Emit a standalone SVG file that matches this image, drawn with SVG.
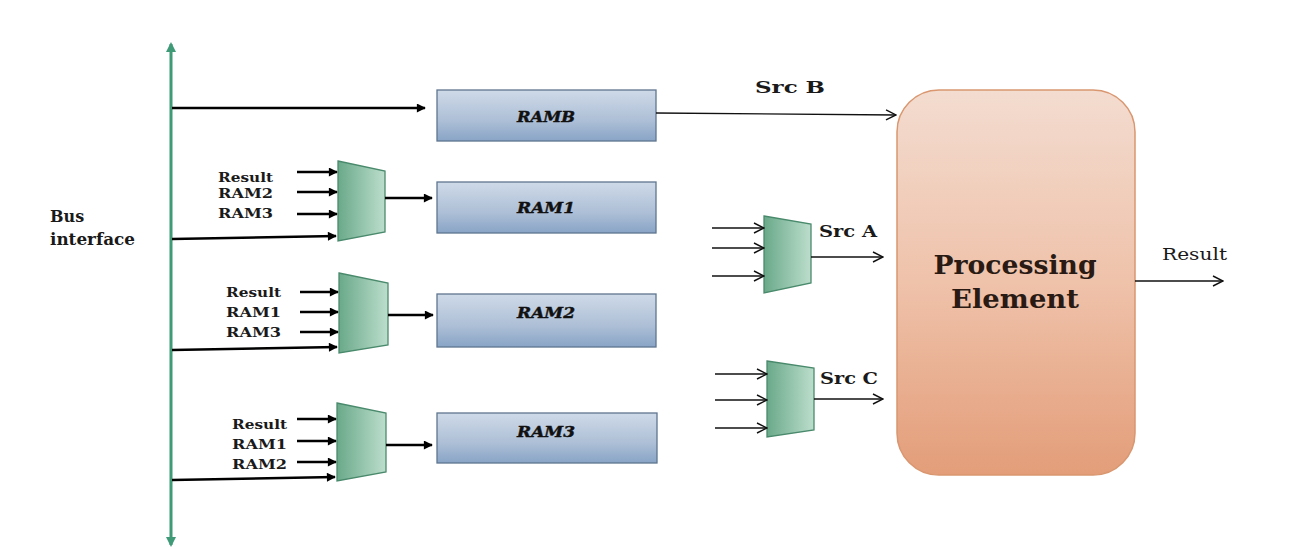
<svg xmlns="http://www.w3.org/2000/svg" width="1289" height="550" viewBox="0 0 1289 550">
<defs>
<linearGradient id="ramG" x1="0" y1="0" x2="0" y2="1">
<stop offset="0" stop-color="#cfdae8"/><stop offset="0.6" stop-color="#adbfd6"/><stop offset="1" stop-color="#88a4c6"/>
</linearGradient>
<linearGradient id="muxG" x1="0" y1="0" x2="1" y2="0">
<stop offset="0" stop-color="#6aa98a"/><stop offset="1" stop-color="#bcdecc"/>
</linearGradient>
<linearGradient id="peG" x1="0" y1="0" x2="0" y2="1">
<stop offset="0" stop-color="#f3dcd0"/><stop offset="0.5" stop-color="#efc2aa"/><stop offset="1" stop-color="#e39d79"/>
</linearGradient>
<marker id="fat" viewBox="0 0 10 10" refX="9" refY="5" markerWidth="10" markerHeight="9" markerUnits="userSpaceOnUse" orient="auto">
<path d="M0,0 L10,5 L0,10 Z" fill="#000"/>
</marker>
<marker id="open" viewBox="0 0 12 12" refX="11" refY="6" markerWidth="12" markerHeight="12" markerUnits="userSpaceOnUse" orient="auto">
<path d="M1,1 L11,6 L1,11" fill="none" stroke="#111" stroke-width="1.4"/>
</marker>
<marker id="busHead" viewBox="0 0 10 10" refX="8" refY="5" markerWidth="11" markerHeight="10" markerUnits="userSpaceOnUse" orient="auto-start-reverse">
<path d="M0,0 L10,5 L0,10 Z" fill="#3f9a78"/>
</marker>
</defs>
<style>
.ram{fill:url(#ramG);stroke:#5f7590;stroke-width:1.3}
.mux{fill:url(#muxG);stroke:#4a8a6c;stroke-width:1.3}
.ramt{font-family:"DejaVu Serif",serif;font-weight:bold;font-style:italic;font-size:14px;fill:#111;stroke:#111;stroke-width:0.4;text-anchor:middle}
.lbl{font-family:"DejaVu Serif",serif;font-weight:bold;font-size:13px;fill:#1a1a1a}
.big{font-size:16px}
.src{font-size:17px}
.thick{stroke:#000;stroke-width:2.6;fill:none;marker-end:url(#fat)}
.thin{stroke:#111;stroke-width:1.3;fill:none;marker-end:url(#open)}
</style>
<rect width="1289" height="550" fill="#ffffff"/>

<g id="bus">
<line x1="171" y1="545" x2="171" y2="44" stroke="#3f9a78" stroke-width="3" marker-start="url(#busHead)" marker-end="url(#busHead)"/>
<text class="lbl big" x="50" y="222">Bus</text>
<text class="lbl big" x="50" y="245" textLength="85" lengthAdjust="spacingAndGlyphs">interface</text>
</g>

<g id="ramb">
<rect class="ram" x="437" y="90" width="219" height="51"/>
<text class="ramt" x="546" y="122" textLength="58" lengthAdjust="spacingAndGlyphs">RAMB</text>
</g>
<g id="ram1">
<rect class="ram" x="437" y="182" width="219" height="51"/>
<text class="ramt" x="546" y="213" textLength="58" lengthAdjust="spacingAndGlyphs">RAM1</text>
</g>
<g id="ram2">
<rect class="ram" x="437" y="294" width="219" height="53"/>
<text class="ramt" x="546" y="318" textLength="58" lengthAdjust="spacingAndGlyphs">RAM2</text>
</g>
<g id="ram3">
<rect class="ram" x="437" y="413" width="220" height="50"/>
<text class="ramt" x="546" y="437" textLength="58" lengthAdjust="spacingAndGlyphs">RAM3</text>
</g>

<g id="mux1">
<polygon class="mux" points="338,161 385,171 385,232 338,241"/>
<text class="lbl" x="218" y="182" textLength="55" lengthAdjust="spacingAndGlyphs">Result</text>
<text class="lbl" x="218" y="198" textLength="55" lengthAdjust="spacingAndGlyphs">RAM2</text>
<text class="lbl" x="218" y="218" textLength="55" lengthAdjust="spacingAndGlyphs">RAM3</text>
</g>
<g id="mux2">
<polygon class="mux" points="339,273 388,283 388,345 339,353"/>
<text class="lbl" x="226" y="297" textLength="55" lengthAdjust="spacingAndGlyphs">Result</text>
<text class="lbl" x="226" y="317" textLength="55" lengthAdjust="spacingAndGlyphs">RAM1</text>
<text class="lbl" x="226" y="337" textLength="55" lengthAdjust="spacingAndGlyphs">RAM3</text>
</g>
<g id="mux3">
<polygon class="mux" points="337,403 386,413 386,472 337,481"/>
<text class="lbl" x="232" y="429" textLength="55" lengthAdjust="spacingAndGlyphs">Result</text>
<text class="lbl" x="232" y="449" textLength="55" lengthAdjust="spacingAndGlyphs">RAM1</text>
<text class="lbl" x="232" y="469" textLength="55" lengthAdjust="spacingAndGlyphs">RAM2</text>
</g>

<g id="muxA">
<polygon class="mux" points="764,216 811,224 811,283 764,293"/>
<text class="lbl src" x="819" y="237" textLength="58" lengthAdjust="spacingAndGlyphs">Src A</text>
</g>
<g id="muxC">
<polygon class="mux" points="767,361 814,368 814,430 767,437"/>
<text class="lbl src" x="820" y="384" textLength="58" lengthAdjust="spacingAndGlyphs">Src C</text>
</g>

<g id="pe">
<rect x="897" y="90" width="238" height="385" rx="42" ry="42" fill="url(#peG)" stroke="#d9966f" stroke-width="1.5"/>
<text x="1015" y="274" font-family="DejaVu Serif, serif" font-weight="bold" font-size="26" fill="#2a1a14" text-anchor="middle" textLength="163" lengthAdjust="spacingAndGlyphs">Processing</text>
<text x="1015" y="308" font-family="DejaVu Serif, serif" font-weight="bold" font-size="26" fill="#2a1a14" text-anchor="middle" textLength="128" lengthAdjust="spacingAndGlyphs">Element</text>
</g>

<g id="labels">
<text class="lbl src" x="755" y="93" textLength="70" lengthAdjust="spacingAndGlyphs">Src B</text>
<text x="1162" y="260" font-family="DejaVu Serif, serif" font-size="17" fill="#1a1a1a" textLength="65" lengthAdjust="spacingAndGlyphs">Result</text>
</g>

<g id="connectors">
<line class="thick" x1="172" y1="108" x2="425" y2="108"/>
<line class="thick" x1="172" y1="239" x2="336" y2="236"/>
<line class="thick" x1="172" y1="350" x2="337" y2="347"/>
<line class="thick" x1="172" y1="480" x2="335" y2="477"/>

<line class="thick" x1="297" y1="172" x2="337" y2="172"/>
<line class="thick" x1="297" y1="192" x2="337" y2="192"/>
<line class="thick" x1="297" y1="214" x2="337" y2="214"/>
<line class="thick" x1="385" y1="198" x2="432" y2="198"/>

<line class="thick" x1="300" y1="292" x2="338" y2="292"/>
<line class="thick" x1="300" y1="312" x2="338" y2="312"/>
<line class="thick" x1="300" y1="332" x2="338" y2="332"/>
<line class="thick" x1="388" y1="315" x2="433" y2="315"/>

<line class="thick" x1="297" y1="419" x2="336" y2="419"/>
<line class="thick" x1="297" y1="441" x2="336" y2="441"/>
<line class="thick" x1="297" y1="462" x2="336" y2="462"/>
<line class="thick" x1="386" y1="445" x2="432" y2="445"/>

<line class="thin" x1="712" y1="228" x2="764" y2="228"/>
<line class="thin" x1="712" y1="248" x2="764" y2="248"/>
<line class="thin" x1="712" y1="276" x2="764" y2="276"/>
<line class="thin" x1="811" y1="257" x2="883" y2="257"/>

<line class="thin" x1="715" y1="374" x2="767" y2="374"/>
<line class="thin" x1="715" y1="400" x2="767" y2="400"/>
<line class="thin" x1="715" y1="428" x2="767" y2="428"/>
<line class="thin" x1="814" y1="399" x2="883" y2="399"/>

<line class="thin" x1="656" y1="113" x2="896" y2="115"/>
<line class="thin" x1="1135" y1="281" x2="1223" y2="281"/>
</g>
</svg>
